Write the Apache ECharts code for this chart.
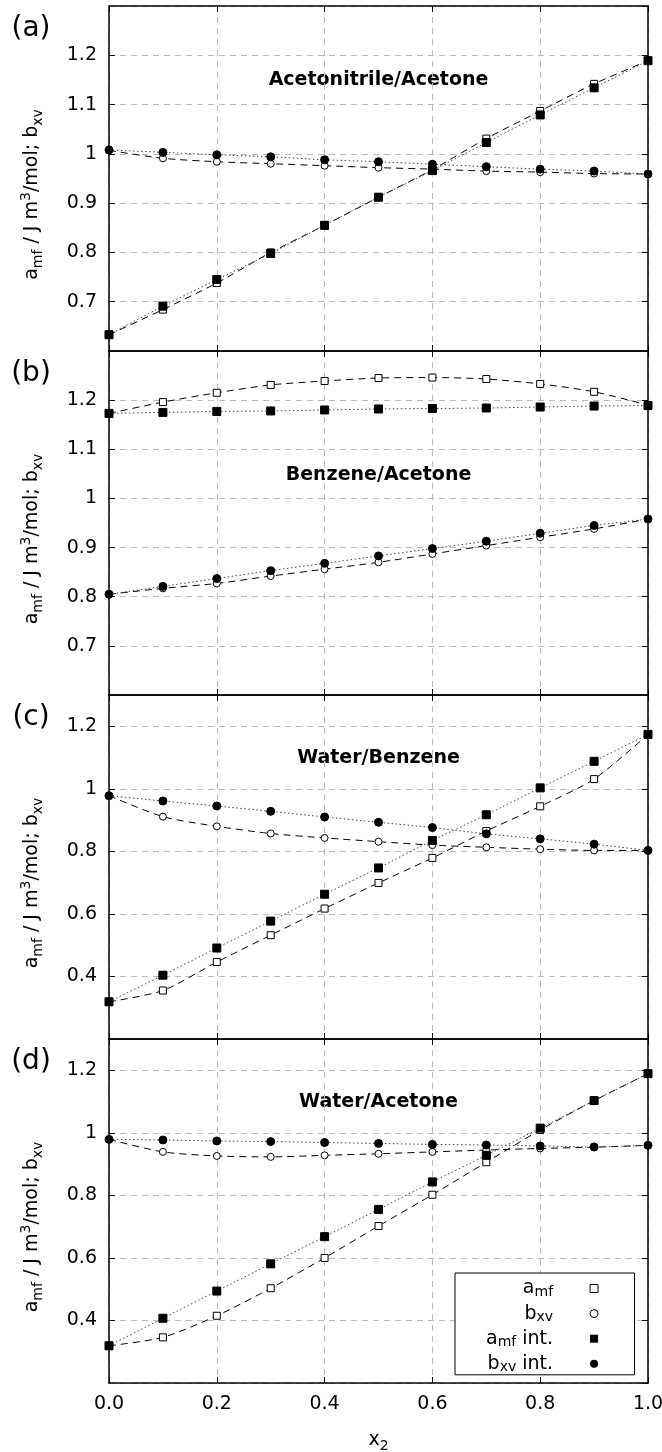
<!DOCTYPE html>
<html><head><meta charset="utf-8">
<script src="https://cdn.jsdelivr.net/npm/echarts@6/dist/echarts.min.js"></script>
<style>html,body{margin:0;padding:0;background:#fff}#c{width:662px;height:1452px}</style>
</head><body><div id="c"></div>
<script>
// ---- data ----
const x2 = [0, 0.1, 0.2, 0.3, 0.4, 0.5, 0.6, 0.7, 0.8, 0.9, 1.0];
const xTickLabels = ['0.0', '0.2', '0.4', '0.6', '0.8', '1.0'];
const panelNames = ['Acetonitrile/Acetone', 'Benzene/Acetone', 'Water/Benzene', 'Water/Acetone'];
const panelLetters = ['(a)', '(b)', '(c)', '(d)'];

const A_amf    = [0.633, 0.684, 0.738, 0.800, 0.855, 0.912, 0.968, 1.031, 1.087, 1.142, 1.189];
const A_bxv    = [1.007, 0.991, 0.984, 0.980, 0.976, 0.972, 0.969, 0.965, 0.963, 0.960, 0.959];
const A_amfInt = [0.633, 0.691, 0.745, 0.798, 0.855, 0.912, 0.966, 1.023, 1.079, 1.134, 1.189];
const A_bxvInt = [1.008, 1.003, 0.998, 0.994, 0.988, 0.984, 0.979, 0.974, 0.969, 0.965, 0.959];

const B_amf    = [1.173, 1.196, 1.215, 1.231, 1.239, 1.245, 1.246, 1.243, 1.233, 1.217, 1.190];
const B_bxv    = [0.805, 0.817, 0.827, 0.842, 0.856, 0.870, 0.887, 0.904, 0.921, 0.938, 0.958];
const B_amfInt = [1.173, 1.175, 1.177, 1.178, 1.180, 1.182, 1.183, 1.184, 1.186, 1.188, 1.189];
const B_bxvInt = [0.805, 0.821, 0.837, 0.853, 0.868, 0.883, 0.898, 0.913, 0.929, 0.945, 0.958];

const C_amf    = [0.319, 0.355, 0.446, 0.532, 0.617, 0.699, 0.779, 0.865, 0.944, 1.031, 1.174];
const C_bxv    = [0.978, 0.911, 0.880, 0.857, 0.843, 0.831, 0.820, 0.813, 0.807, 0.803, 0.803];
const C_amfInt = [0.319, 0.404, 0.491, 0.577, 0.663, 0.747, 0.835, 0.917, 1.003, 1.088, 1.174];
const C_bxvInt = [0.978, 0.961, 0.945, 0.928, 0.910, 0.893, 0.876, 0.856, 0.840, 0.823, 0.803];

const D_amf    = [0.319, 0.346, 0.415, 0.503, 0.600, 0.702, 0.802, 0.906, 1.009, 1.103, 1.189];
const D_bxv    = [0.979, 0.939, 0.926, 0.923, 0.928, 0.933, 0.939, 0.945, 0.950, 0.954, 0.960];
const D_amfInt = [0.319, 0.407, 0.494, 0.581, 0.668, 0.755, 0.843, 0.928, 1.015, 1.103, 1.189];
const D_bxvInt = [0.979, 0.977, 0.974, 0.972, 0.969, 0.966, 0.963, 0.961, 0.958, 0.955, 0.960];

const yMins  = [0.6, 0.6, 0.2, 0.2];
const yMaxs  = [1.3, 1.3, 1.3, 1.3];
const ySteps = [0.1, 0.1, 0.2, 0.2];

const seriesNames = ['a_mf', 'b_xv', 'a_mf int.', 'b_xv int.'];
const legendLabels = {
  'a_mf': '{n|a}{s|mf}',
  'b_xv': '{n|b}{s|xv}',
  'a_mf int.': '{n|a}{s|mf}{n| int.}',
  'b_xv int.': '{n|b}{s|xv}{n| int.}'
};

// ---- layout / style ----
const FONT = 'DejaVu Sans';
const gridTops = [6, 351, 695, 1039];
const gridHeights = [345, 344, 344, 344];
const LEFT = 109, RIGHT = 14;
const panels = [
  [A_amf, A_bxv, A_amfInt, A_bxvInt],
  [B_amf, B_bxv, B_amfInt, B_bxvInt],
  [C_amf, C_bxv, C_amfInt, C_bxvInt],
  [D_amf, D_bxv, D_amfInt, D_bxvInt]
];
const styles = [
  {symbol: 'rect', size: 7, fill: '#fff', line: {type: [7, 5], color: '#000', width: 1}},
  {symbol: 'circle', size: 7, fill: '#fff', line: {type: [7, 5], color: '#000', width: 1}},
  {symbol: 'rect', size: 8, fill: '#000', line: {type: [1.5, 2.5], color: '#444', width: 1}},
  {symbol: 'circle', size: 8, fill: '#000', line: {type: [1.5, 2.5], color: '#444', width: 1}}
];
const subRich = {
  n: {fontFamily: FONT, fontSize: 19, color: '#000', lineHeight: 26},
  s: {fontFamily: FONT, fontSize: 14, color: '#000', lineHeight: 14, verticalAlign: 'bottom'},
  p: {fontFamily: FONT, fontSize: 14, color: '#000', lineHeight: 14, verticalAlign: 'top'}
};

const grid = [], xAxis = [], yAxis = [], series = [], graphic = [];
for (let i = 0; i < 4; i++) {
  grid.push({left: LEFT, right: RIGHT, top: gridTops[i], height: gridHeights[i], outerBoundsMode: 'none', containLabel: false});
  const isLast = i === 3;
  xAxis.push({
    type: 'value', gridIndex: i, position: 'bottom', min: 0, max: 1, interval: 0.2,
    axisLine: {show: true, onZero: false, lineStyle: {color: '#000', width: 1.5}},
    axisTick: {show: true, inside: true, length: 6, lineStyle: {color: '#000', width: 1}},
    axisLabel: {show: isLast, margin: 12, fontFamily: FONT, fontSize: 19, color: '#000',
      formatter: v => xTickLabels[Math.round(v / 0.2)]},
    splitLine: {show: true, lineStyle: {color: '#bbb', type: [6, 5], width: 1}},
    name: isLast ? '{n|x}{s|2}' : '', nameLocation: 'middle', nameGap: 44,
    nameTextStyle: {rich: subRich}
  });
  xAxis.push({
    type: 'value', gridIndex: i, position: 'top', min: 0, max: 1, interval: 0.2,
    axisLine: {show: true, onZero: false, lineStyle: {color: '#000', width: 1.5}},
    axisTick: {show: true, inside: true, length: 6, lineStyle: {color: '#000', width: 1}},
    axisLabel: {show: false}, splitLine: {show: false}
  });
  yAxis.push({
    type: 'value', gridIndex: i, position: 'left', min: yMins[i], max: yMaxs[i], interval: ySteps[i],
    axisLine: {show: true, onZero: false, lineStyle: {color: '#000', width: 1.5}},
    axisTick: {show: true, inside: true, length: 6, lineStyle: {color: '#000', width: 1}},
    axisLabel: {show: true, margin: 12, fontFamily: FONT, fontSize: 19, color: '#000',
      showMinLabel: false, showMaxLabel: false},
    splitLine: {show: true, lineStyle: {color: '#bbb', type: [6, 5], width: 1}},
    name: '{n|a}{s|mf}{n| / J m}{p|3}{n|/mol; b}{s|xv}',
    nameLocation: 'middle', nameRotate: 90, nameGap: 64,
    nameTextStyle: {rich: subRich, padding: [0, 32, 0, 0]}
  });
  yAxis.push({
    type: 'value', gridIndex: i, position: 'right', min: yMins[i], max: yMaxs[i], interval: ySteps[i],
    axisLine: {show: true, onZero: false, lineStyle: {color: '#000', width: 1.5}},
    axisTick: {show: true, inside: true, length: 6, lineStyle: {color: '#000', width: 1}},
    axisLabel: {show: false}, splitLine: {show: false}
  });
  for (let k = 0; k < 4; k++) {
    const st = styles[k];
    series.push({
      type: 'line', name: seriesNames[k], xAxisIndex: 2 * i, yAxisIndex: 2 * i,
      data: x2.map((x, j) => [x, panels[i][k][j]]),
      smooth: 0.25, symbol: st.symbol, symbolSize: st.size, showAllSymbol: true,
      itemStyle: {color: st.fill, borderColor: '#000', borderWidth: 1, opacity: 1},
      lineStyle: st.line, emphasis: {disabled: true}, animation: false, z: 2 + k
    });
  }
  graphic.push({type: 'text', x: 31, y: gridTops[i] + 23, silent: true,
    style: {text: panelLetters[i], font: '28px "DejaVu Sans"', fill: '#000', align: 'center', verticalAlign: 'middle'}});
}
const titleY = [80, 475, 758, 1102];
for (let i = 0; i < 4; i++) {
  graphic.push({type: 'text', x: 378.5, y: titleY[i], silent: true,
    style: {text: panelNames[i], font: 'bold 19px "DejaVu Sans"', fill: '#000', align: 'center', verticalAlign: 'middle'}});
}

const sqPath = 'path://M0,0H8V8H0Z';
const ciPath = 'path://M0,4A4,4 0 1,1 8,4A4,4 0 1,1 0,4Z';
const option = {
  backgroundColor: '#fff',
  animation: false,
  grid, xAxis, yAxis, series, graphic,
  legend: {
    orient: 'vertical', left: 455, top: 1273, align: 'right',
    padding: [6, 36, 0, 31], itemGap: 4.6, itemWidth: 16, itemHeight: 8,
    borderColor: '#000', borderWidth: 1, backgroundColor: '#fff', selectedMode: false,
    data: [
      {name: 'a_mf', icon: sqPath, itemStyle: {color: '#fff', borderColor: '#000', borderWidth: 1}},
      {name: 'b_xv', icon: ciPath, itemStyle: {color: '#fff', borderColor: '#000', borderWidth: 1}},
      {name: 'a_mf int.', icon: sqPath, itemStyle: {color: '#000', borderColor: '#000', borderWidth: 0}},
      {name: 'b_xv int.', icon: ciPath, itemStyle: {color: '#000', borderColor: '#000', borderWidth: 0}}
    ],
    formatter: name => legendLabels[name],
    textStyle: {fontFamily: FONT, fontSize: 19, color: '#000', width: 80, align: 'right',
      padding: [0, 28, 0, 0],
      rich: {
        n: {fontFamily: FONT, fontSize: 19, color: '#000', lineHeight: 22},
        s: {fontFamily: FONT, fontSize: 14, color: '#000', lineHeight: 12, verticalAlign: 'bottom'}
      }}
  }
};
const chart = echarts.init(document.getElementById('c'), null, {renderer: 'canvas'});
chart.setOption(option);
</script></body></html>
